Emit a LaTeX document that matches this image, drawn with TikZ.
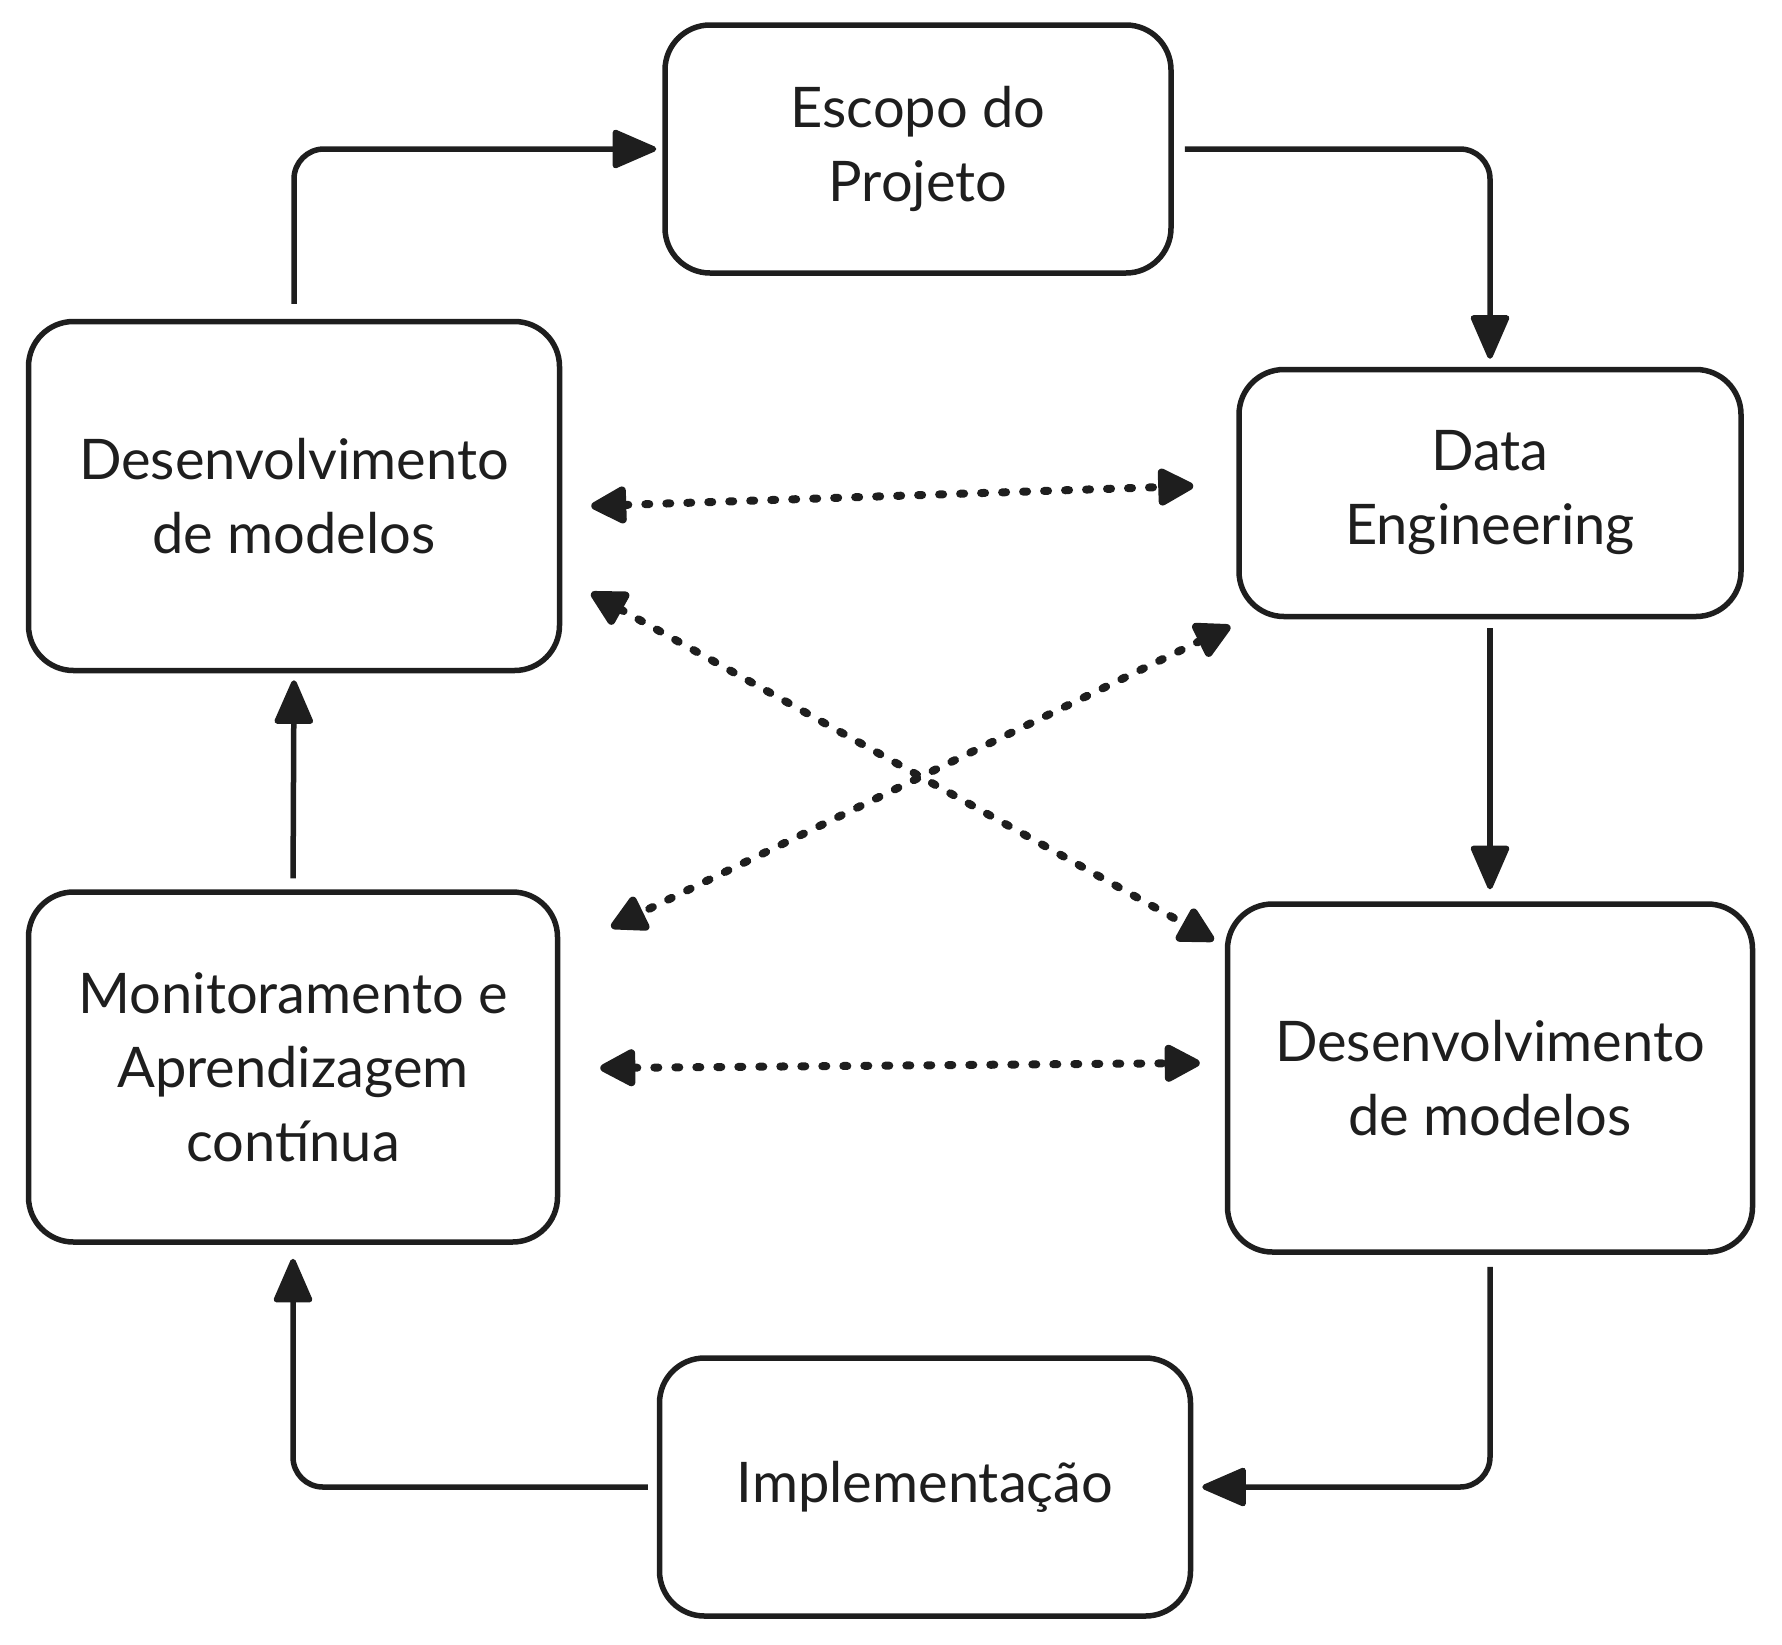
\documentclass[tikz,border=0pt]{standalone}
\usepackage{fontspec}
\setmainfont{Lato}
\usetikzlibrary{arrows.meta,calc}
\definecolor{ink}{HTML}{1E1E1E}
\tikzset{
  box/.style={draw=ink, line width=5.5pt, rounded corners=45pt, align=center,
    text=ink, font=\fontsize{56}{74}\selectfont, inner sep=0pt},
  arr/.style={draw=ink, line width=5.5pt, rounded corners=30pt,
    -{Triangle[length=48pt,width=40pt,round]}},
  dots/.style={draw=ink, line width=8pt, line cap=round, dash pattern=on 4pt off 17pt,
    {Triangle[length=40pt,width=40pt,round]}-{Triangle[length=40pt,width=40pt,round]}}
}
\begin{document}
\begin{tikzpicture}[x=1pt,y=-1pt]
\useasboundingbox (0,0) rectangle (1782,1644);
\node[box, minimum width=506pt, minimum height=248pt] (escopo) at (918,149) {Escopo do\\Projeto};
\node[box, minimum width=502pt, minimum height=247pt] (dataeng) at (1490,493) {Data\\Engineering};
\node[box, minimum width=531pt, minimum height=349pt] (devl) at (294,496) {Desenvolvimento\\de modelos};
\node[box, minimum width=529pt, minimum height=350pt] (mon) at (293,1067) {Monitoramento e\\Aprendizagem\\contínua};
\node[box, minimum width=525pt, minimum height=348pt] (devr) at (1490,1078) {Desenvolvimento\\de modelos};
\node[box, minimum width=531pt, minimum height=258pt] (impl) at (925,1487) {Implementação};

\draw[arr, shorten <=15pt, shorten >=6pt] (devl.north) |- (escopo.west);
\draw[arr, shorten <=11pt, shorten >=8pt] (escopo.east) -| (dataeng.north);
\draw[arr, shorten <=9pt, shorten >=12pt] (dataeng.south) -- (devr.north);
\draw[arr, shorten <=12pt, shorten >=9pt] (devr.south) |- (impl.east);
\draw[arr, shorten <=9pt, shorten >=14pt] (impl.west) -| (mon.south);
\draw[arr, shorten <=11pt, shorten >=7pt] (mon.north) -- (devl.south);

\draw[dots] ($(devl.east)+(29,10)$) -- ($(dataeng.west)+(-43,-7)$);
\draw[dots] ($(devl.east)+(29,97)$) -- ($(devr.north west)+(-11,39)$);
\draw[dots] ($(dataeng.south west)+(-6,7)$) -- ($(mon.north east)+(51,38)$);
\draw[dots] ($(mon.east)+(40,1)$) -- ($(devr.west)+(-25,-15)$);
\end{tikzpicture}
\end{document}
